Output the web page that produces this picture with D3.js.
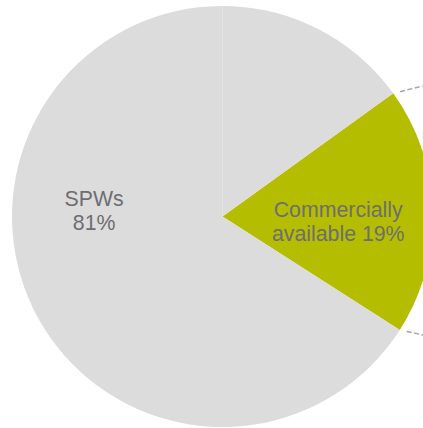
<!DOCTYPE html>
<html>
<head>
<meta charset="utf-8">
<script src="https://cdn.jsdelivr.net/npm/d3@7"></script>
<style>
  html, body { margin: 0; padding: 0; background: #ffffff; }
  svg { display: block; }
</style>
</head>
<body>
<svg id="chart" width="423" height="428"></svg>
<script>
// Share of items by source
const categories = ["Commercially available", "SPWs"];
const shares = [19, 81];
const labelLines = [["Commercially", "available 19%"], ["SPWs", "81%"]];
const sliceColors = ["#b5bd00", "#dcdcdc"];

const chartWidth = 423, chartHeight = 428;
const cx = 222.5, cy = 216.5, radius = 210.5;
const deg = Math.PI / 180;
const firstAngle = 54.2 * deg;

const svg = d3.select("#chart");
const g = svg.append("g").attr("transform", `translate(${cx},${cy})`);

const pie = d3.pie().sort(null).value(d => d)
  .startAngle(firstAngle).endAngle(firstAngle + 2 * Math.PI);
const arcs = pie(shares);
const arc = d3.arc().innerRadius(0).outerRadius(radius);

g.selectAll("path.slice")
  .data(arcs)
  .join("path")
  .attr("class", "slice")
  .attr("d", arc)
  .attr("fill", (d, i) => sliceColors[i]);

// faint seam where the grey series begins at 12 o'clock
const seamEnd = d3.pointRadial(0, radius);
g.append("line")
  .attr("x1", 0).attr("y1", 0)
  .attr("x2", seamEnd[0]).attr("y2", seamEnd[1])
  .attr("stroke", "#e4e4e4")
  .attr("stroke-width", 0.8);

// dashed connectors leading from the split slice towards the secondary chart
const green = arcs[0];
const p1 = d3.pointRadial(green.startAngle, radius);
const p2 = d3.pointRadial(green.endAngle, radius);
const connectorSlopes = [-0.25, 0.22];
[p1, p2].forEach((p, i) => {
  const len = 90, gap = 7;
  const ux = 1 / Math.sqrt(1 + connectorSlopes[i] ** 2);
  const uy = connectorSlopes[i] * ux;
  g.append("line")
    .attr("x1", p[0] + ux * gap).attr("y1", p[1] + uy * gap)
    .attr("x2", p[0] + ux * len).attr("y2", p[1] + uy * len)
    .attr("stroke", "#a6a6a6")
    .attr("stroke-width", 1.5)
    .attr("stroke-dasharray", "5,2.6");
});

// slice labels
const labelRadius = [0.55, 0.61];
const labelShift = [[0, 3.4], [0, -14]];
const lineGap = 24;
arcs.forEach((a, i) => {
  const mid = (a.startAngle + a.endAngle) / 2;
  const [lx, ly] = d3.pointRadial(mid, radius * labelRadius[i]);
  const t = g.append("text")
    .attr("text-anchor", "middle")
    .attr("font-family", "'Liberation Sans', Arial, sans-serif")
    .attr("font-size", "21.3px")
    .attr("fill", "#6d6e71");
  labelLines[i].forEach((line, j) => {
    t.append("tspan")
      .attr("x", lx + labelShift[i][0])
      .attr("y", ly + labelShift[i][1] + j * lineGap)
      .text(line);
  });
});
</script>
</body>
</html>
